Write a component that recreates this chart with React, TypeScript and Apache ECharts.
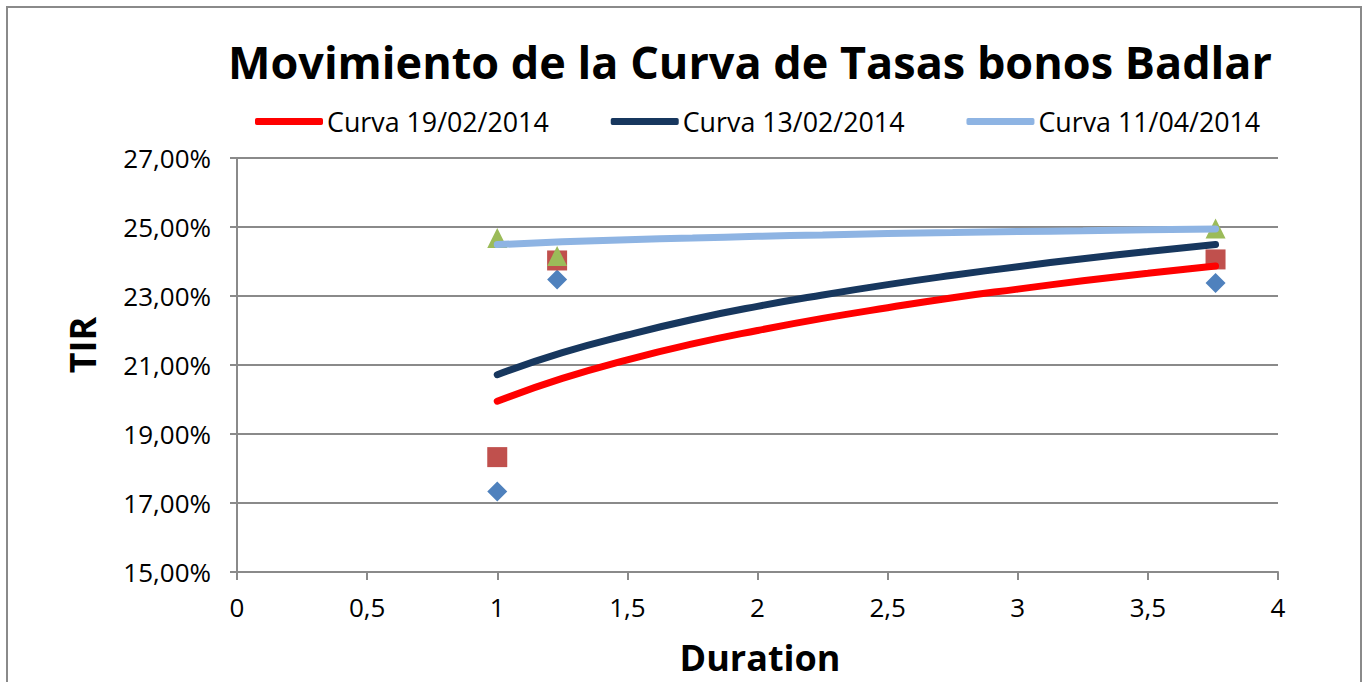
import React, { useEffect, useRef } from "react";
import * as echarts from "echarts";

// Trendline curves
const curveX = [1, 1.25, 1.5, 1.75, 2, 2.25, 2.5, 2.75, 3, 3.25, 3.5, 3.76];
const curve1902 = [19.95, 20.61, 21.15, 21.61, 22.0, 22.35, 22.66, 22.95, 23.2, 23.44, 23.66, 23.87];
const curve1302 = [20.72, 21.36, 21.87, 22.32, 22.7, 23.03, 23.33, 23.6, 23.85, 24.08, 24.29, 24.49];
const curve1104 = [24.49, 24.57, 24.63, 24.68, 24.73, 24.77, 24.81, 24.84, 24.87, 24.89, 24.92, 24.94];

// Observed bond points
const pointX = [1, 1.23, 3.76];
const diamondPts = [17.33, 23.48, 23.38];
const squarePts = [18.33, 24.03, 24.06];
const trianglePts = [24.68, 24.16, 24.96];

const legendNames = ["Curva 19/02/2014", "Curva 13/02/2014", "Curva 11/04/2014"];
const yTicks = { min: 15, max: 27, interval: 2 };
const xTicks = { min: 0, max: 4, interval: 0.5 };

const FONT = "'Open Sans', sans-serif";

const zip = (xs: number[], ys: number[]) => xs.map((x, i) => [x, ys[i]]);

export default function App() {
  const ref = useRef<HTMLDivElement>(null);
  useEffect(() => {
    document.body.style.margin = "0";
    const chart = echarts.init(ref.current!, null, { renderer: "svg" });
    const gridColor = "#8a8a8a";
    const lineSeries = (name: string, data: number[], color: string) => ({
      name,
      type: "line",
      data: zip(curveX, data),
      smooth: true,
      showSymbol: false,
      symbol: "none",
      color,
      lineStyle: { color, width: 7, cap: "round" },
      z: 3,
    });
    const scatter = (name: string, data: number[], symbol: string, color: string, size: number) => ({
      name,
      type: "scatter",
      data: zip(pointX, data),
      symbol,
      symbolSize: size,
      itemStyle: { color, opacity: 1 },
      z: 2,
    });
    chart.setOption({
      animation: false,
      backgroundColor: "#ffffff",
      title: {
        text: "Movimiento de la Curva de Tasas bonos Badlar",
        left: 223,
        top: 34,
        textStyle: { fontFamily: FONT, fontWeight: "bold", fontSize: 45, color: "#000" },
      },
      legend: {
        data: legendNames,
        left: 250,
        top: 103,
        icon: "roundRect",
        itemWidth: 68,
        itemHeight: 7,
        itemGap: 62,
        textStyle: { fontFamily: FONT, fontSize: 26.8, color: "#000", padding: [0, 0, 0, -1] },
      },
      grid: { left: 237, right: 89, top: 158, bottom: 110 },
      xAxis: {
        type: "value",
        min: xTicks.min,
        max: xTicks.max,
        interval: xTicks.interval,
        axisLine: { lineStyle: { color: gridColor, width: 2 } },
        axisTick: { show: true, length: 8, lineStyle: { color: gridColor, width: 2 } },
        splitLine: { show: false },
        axisLabel: {
          margin: 22,
          fontFamily: FONT,
          fontSize: 26,
          color: "#000",
          formatter: (v: number) => String(v).replace(".", ","),
        },
      },
      yAxis: {
        type: "value",
        min: yTicks.min,
        max: yTicks.max,
        interval: yTicks.interval,
        axisLine: { show: true, lineStyle: { color: gridColor, width: 2 } },
        axisTick: { show: true, length: 7, lineStyle: { color: gridColor, width: 2 } },
        splitLine: { show: true, lineStyle: { color: gridColor, width: 2 } },
        axisLabel: {
          margin: 26,
          fontFamily: FONT,
          fontSize: 26,
          color: "#000",
          formatter: (v: number) => v.toFixed(2).replace(".", ",") + "%",
        },
      },
      graphic: [
        {
          type: "rect",
          shape: { x: 7, y: 7, width: 1354, height: 720 },
          style: { fill: "none", stroke: "#8a8a8a", lineWidth: 2 },
          silent: true,
        },
        {
          type: "text",
          x: 82,
          y: 345,
          rotation: Math.PI / 2,
          style: {
            text: "TIR",
            fontFamily: FONT,
            fontWeight: "bold",
            fontSize: 36,
            fill: "#000",
            align: "center",
            verticalAlign: "middle",
          },
        },
        {
          type: "text",
          x: 760,
          y: 657,
          style: {
            text: "Duration",
            fontFamily: FONT,
            fontWeight: "bold",
            fontSize: 36,
            fill: "#000",
            align: "center",
            verticalAlign: "middle",
          },
        },
      ],
      series: [
        scatter("Bonos A", diamondPts, "diamond", "#4F81BD", 20),
        scatter("Bonos B", squarePts, "rect", "#C0504D", 20),
        scatter("Bonos C", trianglePts, "triangle", "#9BBB59", 20),
        lineSeries(legendNames[0], curve1902, "#FF0000"),
        lineSeries(legendNames[1], curve1302, "#17375E"),
        lineSeries(legendNames[2], curve1104, "#8EB4E3"),
      ],
    });
    return () => chart.dispose();
  }, []);
  return <div ref={ref} style={{ width: 1367, height: 682 }} />;
}
